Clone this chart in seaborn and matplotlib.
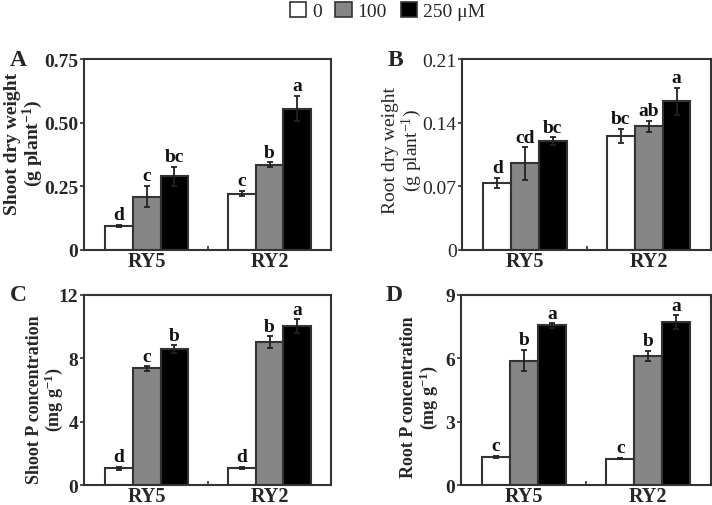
import matplotlib
matplotlib.use("Agg")
import matplotlib.pyplot as plt
from matplotlib.patches import Patch
import numpy as np
import pandas as pd
import seaborn as sns

# data
cultivars = ["RY5", "RY2"]
doses = ["0", "100", "250 μM"]

shoot_dw = [[0.095, 0.21, 0.29], [0.222, 0.336, 0.556]]
shoot_dw_err = [[0.004, 0.042, 0.038], [0.011, 0.008, 0.05]]
shoot_dw_let = [["d", "c", "bc"], ["c", "b", "a"]]

root_dw = [[0.0737, 0.0953, 0.120], [0.1257, 0.1363, 0.1638]]
root_dw_err = [[0.006, 0.018, 0.004], [0.008, 0.006, 0.015]]
root_dw_let = [["d", "cd", "bc"], ["bc", "ab", "a"]]

shoot_p = [[1.05, 7.35, 8.57], [1.09, 9.01, 10.0]]
shoot_p_err = [[0.1, 0.15, 0.23], [0.05, 0.38, 0.44]]
shoot_p_let = [["d", "c", "b"], ["d", "b", "a"]]

root_p = [[1.33, 5.89, 7.55], [1.25, 6.1, 7.71]]
root_p_err = [[0.05, 0.52, 0.1], [0.03, 0.25, 0.33]]
root_p_let = [["c", "b", "a"], ["c", "b", "a"]]

colors = ["white", "#868686", "black"]
edge = "#333333"

sns.set_style("ticks")
plt.rcParams["font.family"] = ["Liberation Serif", "DejaVu Serif"]
plt.rcParams["mathtext.fontset"] = "custom"
plt.rcParams["mathtext.rm"] = "Liberation Serif"
plt.rcParams["mathtext.bf"] = "Liberation Serif:bold"

fig = plt.figure(figsize=(7.12, 5.06), dpi=100)

panels = [
    ("A", [0.118, 0.504, 0.347, 0.377], shoot_dw, shoot_dw_err, shoot_dw_let,
     "Shoot dry weight\n(g $\\mathbf{plant^{-1}}$)", 14, (-0.158, 0.563),
     [0, 0.25, 0.5, 0.75], ["0", "0.25", "0.50", "0.75"], "bold"),
    ("B", [0.649, 0.504, 0.349, 0.377], root_dw, root_dw_err, root_dw_let,
     "Root dry weight\n(g $\\mathrm{plant^{-1}}$)", 14, (-0.155, 0.529),
     [0, 0.07, 0.14, 0.21], ["0", "0.07", "0.14", "0.21"], "normal"),
    ("C", [0.118, 0.0395, 0.347, 0.376], shoot_p, shoot_p_err, shoot_p_let,
     "Shoot P concentration\n(mg $\\mathbf{g^{-1}}$)", 13, (-0.075, 0.453),
     [0, 4, 8, 12], ["0", "4", "8", "12"], "bold"),
    ("D", [0.647, 0.0395, 0.351, 0.376], root_p, root_p_err, root_p_let,
     "Root P concentration\n(mg $\\mathbf{g^{-1}}$)", 13, (-0.084, 0.466),
     [0, 3, 6, 9], ["0", "3", "6", "9"], "bold"),
]

for tag, pos, vals, errs, lets, ylab, ysize, lcoord, yt, ytl, wt in panels:
    ax = fig.add_axes(pos)
    df = pd.DataFrame({
        "cultivar": np.repeat(cultivars, 3),
        "dose": doses * 2,
        "value": np.ravel(vals),
    })
    sns.barplot(data=df, x="cultivar", y="value", hue="dose", order=cultivars,
                hue_order=doses, palette=colors, width=0.675, gap=0,
                errorbar=None, edgecolor=edge, linewidth=1.5, legend=False, ax=ax)
    ymax = yt[-1]
    for j, dose in enumerate(doses):
        cont = ax.containers[j]
        for i, bar in enumerate(cont):
            xc = bar.get_x() + bar.get_width() / 2
            h = bar.get_height()
            e = errs[i][j]
            ax.errorbar(xc, h, yerr=e, fmt="none", ecolor="#222222",
                        elinewidth=1.3, capsize=2.5, capthick=1.3)
            ax.text(xc, h + e + ymax * 0.008, lets[i][j], ha="center", va="bottom",
                    fontsize=14, fontweight="bold", color="#111111")
    ax.set_ylim(0, ymax)
    ax.set_xlim(-0.51, 1.5)
    ax.set_yticks(yt)
    ax.set_yticklabels(ytl, fontsize=14, fontweight=wt)
    ax.set_xticks([0, 1])
    ax.set_xticklabels(cultivars, fontsize=14.5, fontweight="bold")
    ax.set_xticks([0.5], minor=True)
    ax.tick_params(axis="x", which="major", length=0, pad=1)
    ax.tick_params(axis="x", which="minor", direction="in", length=3, width=1.2, color=edge)
    ax.tick_params(axis="y", direction="out", length=3, width=1.2, color=edge, pad=1)
    ax.set_xlabel("")
    ax.set_ylabel(ylab, fontsize=ysize, fontweight=wt, linespacing=1.0)
    ax.yaxis.set_label_coords(*lcoord)
    for s in ax.spines.values():
        s.set_color(edge)
        s.set_linewidth(1.5)
    ax.text(-0.3, 1.0, tag, transform=ax.transAxes, fontsize=17, fontweight="bold",
            ha="left", va="center")

handles = [Patch(facecolor=c, edgecolor=edge, linewidth=1.2, label=d)
           for c, d in zip(colors, doses)]
fig.legend(handles=handles, loc="center", bbox_to_anchor=(0.544, 0.976), ncol=3,
           frameon=False, handlelength=0.85, handleheight=0.85,
           handletextpad=0.3, columnspacing=0.7, prop={"size": 14})

fig.savefig("out.png", dpi=100)
